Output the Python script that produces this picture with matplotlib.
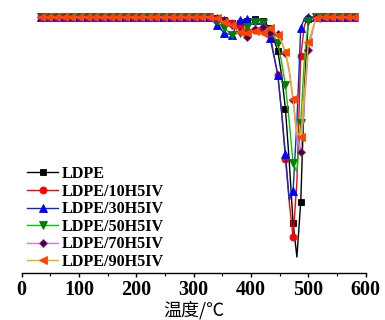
import matplotlib
matplotlib.use("Agg")
import matplotlib.pyplot as plt
from matplotlib.ticker import MultipleLocator

# Temperature grid (°C); starred half-steps in the peak region are line-only points
temperature = [33.3, 46.7, 60.0, 73.3, 86.7, 100.0, 113.3, 126.7, 140.0, 153.3,
               166.7, 180.0, 193.3, 206.7, 220.0, 233.3, 246.7, 260.0, 273.3, 286.7,
               300.0, 313.3, 326.7, 340.0, 353.3, 366.7, 380.0, 393.3, 406.7, 420.0,
               433.3, 446.7, 453.3, 460.0, 466.7, 473.3, 480.0, 486.7, 493.3, 500.0,
               513.3, 526.7, 540.0, 553.3, 566.7, 580.0]
line_only = [453.3, 466.7, 480.0, 493.3]

# DTG values (arbitrary units, baseline 0)
ldpe = [0.01, 0, 0, 0, 0, 0, 0, 0, 0, 0,
        0, 0, 0, 0, 0, 0, 0, 0, 0, 0,
        0, 0, 0, -0.01, -0.03, -0.06, -0.06, -0.04, -0.02, -0.04,
        -0.11, -0.34, -0.58, -0.92, -1.45, -2.06, -2.40, -1.85, -0.70, -0.02,
        0, 0, 0, 0, 0, 0]
ldpe_10 = [0, 0, 0, 0, 0, 0, 0, 0, 0, 0,
           0, 0, 0, 0, 0, 0, 0, 0, 0, 0,
           0, 0, 0, -0.02, -0.04, -0.06, -0.10, -0.14, -0.13, -0.12,
           -0.18, -0.58, -0.95, -1.42, -1.85, -2.20, -1.65, -0.39, -0.08, -0.01,
           0, 0, 0, 0, 0, 0]
ldpe_30 = [0, 0, 0, 0, 0, 0, 0, 0, 0, 0,
           0, 0, 0, 0, 0, 0, 0, 0, 0, 0,
           0, 0, 0, -0.08, -0.16, -0.18, -0.03, -0.02, -0.03, -0.08,
           -0.21, -0.58, -0.95, -1.37, -1.83, -1.74, -1.05, -0.11, -0.01, 0,
           0, 0, 0, 0, 0, 0]
ldpe_50 = [0, 0, 0, 0, 0, 0, 0, 0, 0, 0,
           0, 0, 0, 0, 0, 0, 0, 0, 0, 0,
           0, 0, 0, -0.04, -0.11, -0.18, -0.16, -0.10, -0.05, -0.06,
           -0.13, -0.26, -0.45, -0.68, -1.05, -1.46, -1.55, -1.06, -0.40, -0.04,
           0, 0, 0, 0, 0, 0]
ldpe_70 = [0, 0, 0, 0, 0, 0, 0, 0, 0, 0,
           0, 0, 0, 0, 0, 0, 0, 0, 0, 0,
           0, 0, 0, -0.01, -0.03, -0.08, -0.14, -0.20, -0.12, -0.10,
           -0.16, -0.17, -0.25, -0.36, -0.55, -0.83, -1.20, -1.35, -0.85, -0.33,
           0, 0, 0, 0, 0, 0]
ldpe_90 = [0, 0, 0, 0, 0, 0, 0, 0, 0, 0,
           0, 0, 0, 0, 0, 0, 0, 0, 0, 0,
           0, 0, 0, -0.01, -0.05, -0.08, -0.15, -0.16, -0.14, -0.16,
           -0.11, -0.18, -0.25, -0.35, -0.52, -0.82, -1.15, -1.20, -0.75, -0.25,
           -0.01, 0, 0, 0, 0, 0]

labels = ["LDPE", "LDPE/10H5IV", "LDPE/30H5IV", "LDPE/50H5IV", "LDPE/70H5IV", "LDPE/90H5IV"]
series = [ldpe, ldpe_10, ldpe_30, ldpe_50, ldpe_70, ldpe_90]
line_colors = ["#000000", "#FF0000", "#0030D0", "#00CC00", "#E070F0", "#F0B000"]
face_colors = ["#000000", "#FF0000", "#0000FF", "#008000", "#400040", "#FF4500"]
edge_colors = ["#000000", "#FF0000", "#0000FF", "#008000", "#A020A0", "#FF4500"]
markers = ["s", "o", "^", "v", "D", "<"]
msizes = [4.6, 5.0, 5.6, 5.6, 4.5, 5.6]

fig = plt.figure(figsize=(3.85, 3.2), dpi=100)
ax = fig.add_axes([21.7 / 385, (320 - 273.3) / 320, 344 / 385, (273.3 - 5) / 320])

mark_idx = [i for i, t in enumerate(temperature) if t not in line_only]
for y, lab, lc, fc, ec, m, ms in zip(series, labels, line_colors, face_colors,
                                      edge_colors, markers, msizes):
    ax.plot(temperature, y, color=lc, lw=1.0, marker=m, markersize=ms,
            markerfacecolor=fc, markeredgecolor=ec, markeredgewidth=0.6,
            markevery=mark_idx, label=lab)

ax.set_xlim(0, 600)
ax.set_ylim(-2.563, 0.12)
for s in ["top", "right", "left"]:
    ax.spines[s].set_visible(False)
ax.spines["bottom"].set_linewidth(1.0)
ax.set_yticks([])
ax.xaxis.set_major_locator(MultipleLocator(100))
ax.xaxis.set_minor_locator(MultipleLocator(50))
ax.tick_params(axis="x", which="major", direction="out", length=3, width=1.0, pad=2,
               labelsize=14.5)
ax.tick_params(axis="x", which="minor", direction="out", length=1.8, width=0.8)
for t in ax.get_xticklabels():
    t.set_fontfamily("Liberation Serif")
    t.set_fontweight("bold")

fig.text(193.7 / 385, 1 - 310 / 320, "温度/℃", ha="center", va="center",
         fontsize=13, fontweight="medium", family=["Noto Sans CJK SC", "DejaVu Sans"])

leg = ax.legend(loc="upper left", bbox_to_anchor=(27.0 / 385, 1 - 166 / 320),
                bbox_transform=fig.transFigure, frameon=False, borderpad=0,
                borderaxespad=0, handlelength=1.95, handletextpad=0.2,
                labelspacing=0.1,
                prop={"family": "Liberation Serif", "size": 11.6, "weight": "bold"})

fig.savefig("out.png", dpi=100)
